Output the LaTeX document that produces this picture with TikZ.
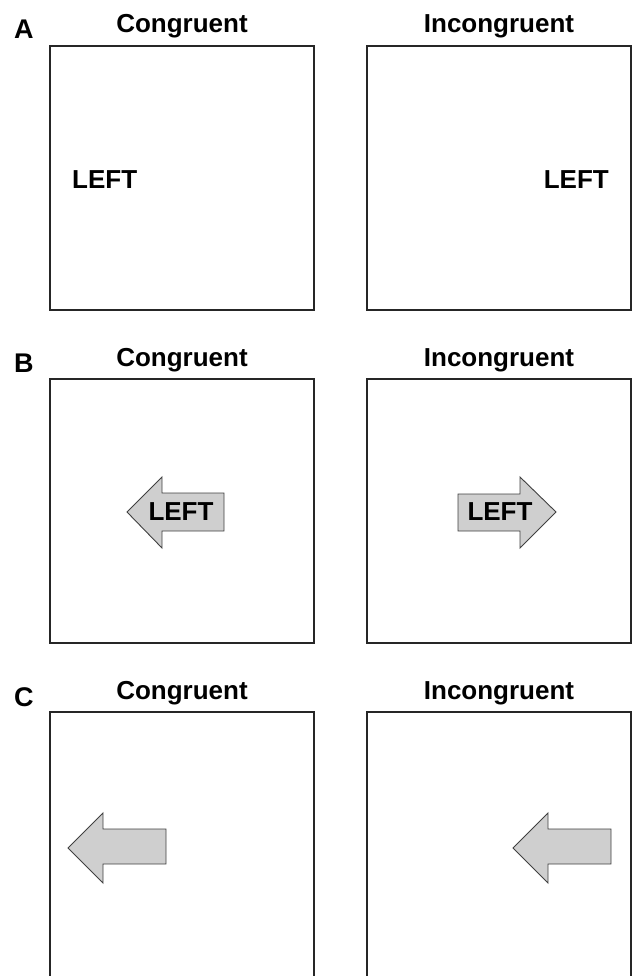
\documentclass[tikz,border=0pt]{standalone}
\usepackage{fontspec}
\setmainfont{Liberation Sans}
\begin{document}
\begin{tikzpicture}[x=1pt,y=-1pt,
  panel/.style={draw=black!85,line width=1.8pt},
  arrowshape/.style={draw=black!75,line width=0.9pt,fill=black!19,line join=miter},
  title/.style={font=\bfseries\fontsize{26}{30}\selectfont,anchor=base,inner sep=0pt},
  letter/.style={font=\bfseries\fontsize{27}{30}\selectfont,anchor=base west,inner sep=0pt},
  word/.style={font=\bfseries\fontsize{26}{30}\selectfont,inner sep=0pt}]
\useasboundingbox (0,0) rectangle (633,976);
% ---- Panel A
\node[letter] (lA) at (14,39) {A};
\node[title] (tA1) at (182,33) {Congruent};
\node[title] (tA2) at (499,33) {Incongruent};
\draw[panel] (50,46) rectangle (314,310);
\draw[panel] (367,46) rectangle (631,310);
\node[word,anchor=base west] (wA1) at (72,189) {LEFT};
\node[word,anchor=base east] (wA2) at (609,189) {LEFT};
% ---- Panel B
\node[letter] (lB) at (14,372) {B};
\node[title] (tB1) at (182,366) {Congruent};
\node[title] (tB2) at (499,366) {Incongruent};
\draw[panel] (50,379) rectangle (314,643);
\draw[panel] (367,379) rectangle (631,643);
\draw[arrowshape] (127,512) -- (162,477) -- (162,493) -- (224,493) -- (224,531) -- (162,531) -- (162,548) -- cycle;
\node[word] (wB1) at (181,512) {LEFT};
\draw[arrowshape] (556,512) -- (520,477) -- (520,494) -- (458,494) -- (458,531) -- (520,531) -- (520,548) -- cycle;
\node[word] (wB2) at (500,512) {LEFT};
% ---- Panel C
\node[letter] (lC) at (14,706) {C};
\node[title] (tC1) at (182,699) {Congruent};
\node[title] (tC2) at (499,699) {Incongruent};
\draw[panel] (50,980) -- (50,712) -- (314,712) -- (314,980);
\draw[panel] (367,980) -- (367,712) -- (631,712) -- (631,980);
\draw[arrowshape] (68,848) -- (103,813) -- (103,829) -- (166,829) -- (166,864) -- (103,864) -- (103,883) -- cycle;
\draw[arrowshape] (513,848) -- (548,813) -- (548,829) -- (611,829) -- (611,864) -- (548,864) -- (548,883) -- cycle;
\end{tikzpicture}
\end{document}
